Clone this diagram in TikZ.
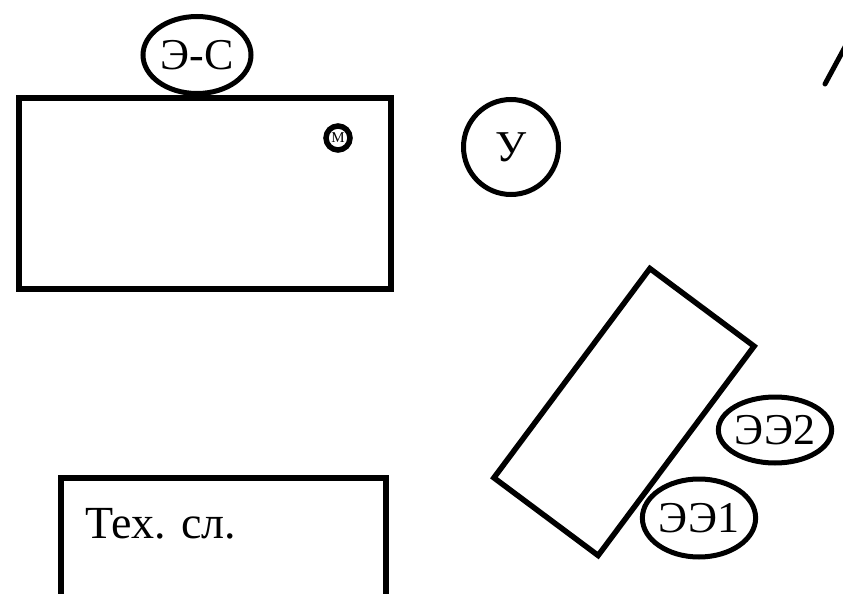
\documentclass[tikz,border=0pt]{standalone}
\usepackage{fontspec}
\setmainfont{Liberation Serif}
\usetikzlibrary{shapes.geometric}
\tikzset{
  box/.style={draw=black, line width=5.5pt, inner sep=0pt},
  oval/.style={ellipse, draw=black, line width=5pt, inner sep=0pt, font=\fontsize{44}{48}\selectfont},
  lbl/.style={inner sep=0pt, font=\fontsize{46}{50}\selectfont}
}
\begin{document}
\begin{tikzpicture}[x=1pt,y=-1pt]
\useasboundingbox (0,0) rectangle (843,594);
\clip (0,0) rectangle (843,594);
\fill[white] (0,0) rectangle (843,594);
% main room rectangle
\node[box, minimum width=372pt, minimum height=191pt] (hall) at (205,193.5) {};
% Э-С ellipse touching the top
\node[oval, minimum width=108pt, minimum height=77pt] (es) at (197,55) {Э-С};
% M circle
\node[circle, draw=black, line width=5.5pt, minimum size=24pt, inner sep=0pt,
      font=\fontsize{15}{17}\selectfont] (m) at (338,138) {М};
% У circle
\node[circle, draw=black, line width=5pt, minimum size=95pt, inner sep=0pt,
      font=\fontsize{44}{48}\selectfont] (u) at (511,147) {У};
% rotated rectangle
\node[box, minimum width=261pt, minimum height=130pt, rotate=53.3] (table) at (624,412) {};
% ЭЭ2 and ЭЭ1 ellipses
\node[oval, minimum width=110pt, minimum height=66pt] (ee2) at (775,430) {ЭЭ2};
\node[oval, minimum width=102pt, minimum height=78pt] (ee1) at (699,518) {ЭЭ1};
% Тех. сл. box, running off the bottom edge
\node[draw=black, line width=6.5pt, inner sep=0pt, minimum width=325pt, minimum height=140pt] (tech) at (223.5,548) {};
\node[lbl, anchor=base west] (techlabel) at (85,538) {Тех. сл.};
% partial line at top right
\coordinate (ra) at (825,84);
\coordinate (rb) at (852,34);
\draw[line width=5pt, line cap=round] (ra) -- (rb);
\end{tikzpicture}
\end{document}
